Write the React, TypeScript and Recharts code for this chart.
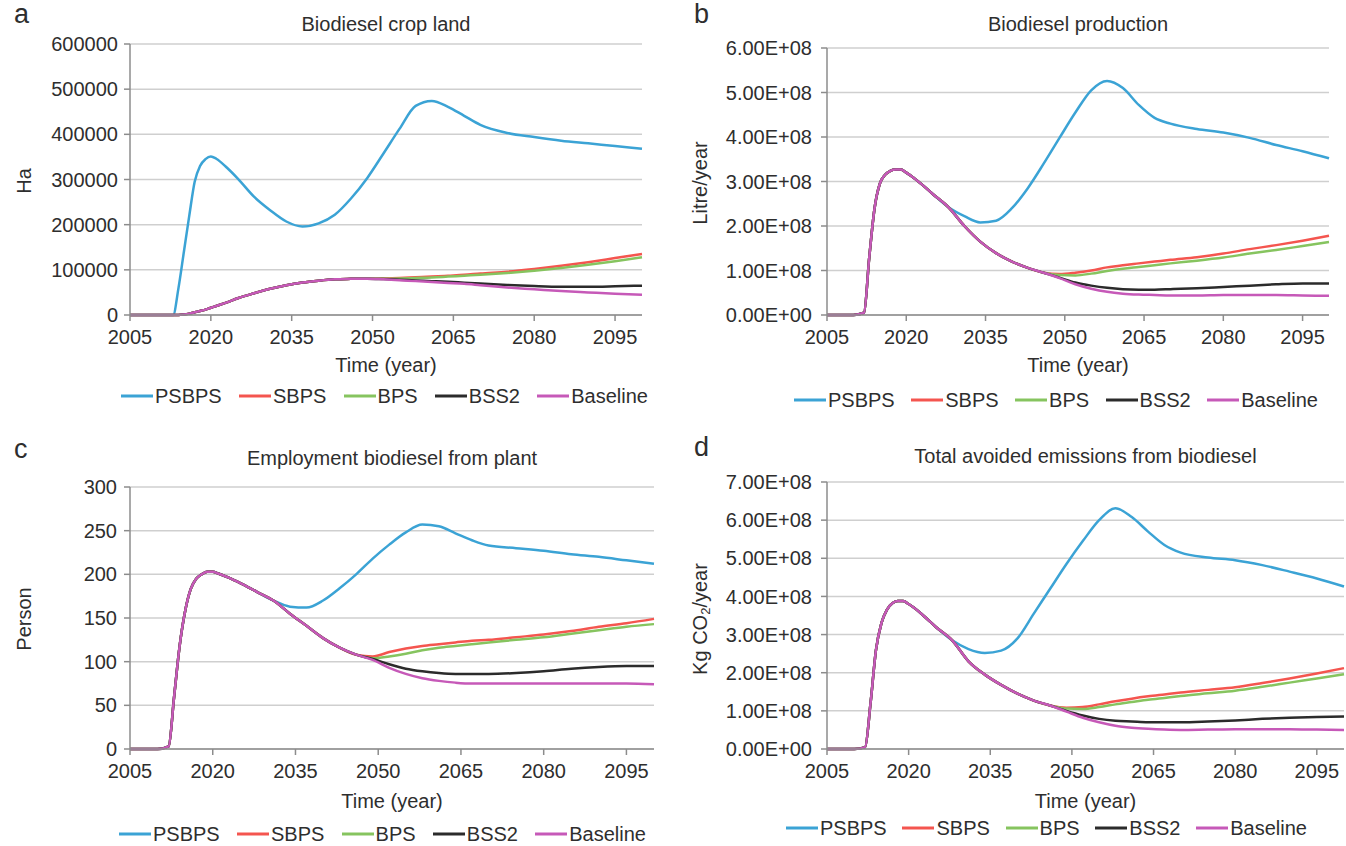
import React from 'react'
import { LineChart, Line, XAxis, YAxis, CartesianGrid } from 'recharts'

const YEARS = [2005, 2010, 2012, 2013, 2014, 2015, 2016, 2017, 2018, 2019, 2020, 2021, 2023, 2025, 2028, 2031, 2034, 2037, 2040, 2043, 2046, 2049, 2052, 2055, 2058, 2061, 2064, 2067, 2070, 2075, 2080, 2085, 2090, 2095, 2100]
const YEAR_TICKS = [2005, 2020, 2035, 2050, 2065, 2080, 2095]
const SERIES = ['PSBPS', 'SBPS', 'BPS', 'BSS2', 'Baseline']
const COLORS = ['#3ba3d5', '#f4554f', '#86c45f', '#2b2b2b', '#c659b8']

// a - crop land (Ha)
const LAND_PSBPS = [0, 0, 0, 0, 60000, 140000, 220000, 295000, 330000, 345000, 351000, 346000, 326000, 302000, 262000, 232000, 207000, 196000, 203000, 222000, 258000, 303000, 357000, 412000, 463000, 474000, 461000, 441000, 421000, 403000, 394000, 386000, 380000, 374000, 368000]
const LAND_SBPS = [0, 0, 0, 0, 0, 1000, 3000, 6000, 9000, 12000, 16000, 20000, 28000, 37000, 48000, 58000, 66000, 72000, 76000, 79000, 80000, 80500, 81000, 82000, 83500, 85000, 87000, 89000, 92000, 96000, 102000, 109000, 117000, 126000, 135000]
const LAND_BPS = [0, 0, 0, 0, 0, 1000, 3000, 6000, 9000, 12000, 16000, 20000, 28000, 37000, 48000, 58000, 66000, 72000, 76000, 79000, 80000, 80500, 80500, 81000, 82000, 83000, 85000, 87000, 89000, 93000, 98000, 104000, 111000, 119000, 128000]
const LAND_BSS2 = [0, 0, 0, 0, 0, 1000, 3000, 6000, 9000, 12000, 16000, 20000, 28000, 37000, 48000, 58000, 66000, 72000, 76000, 79000, 80000, 80500, 79500, 78000, 76500, 75000, 73500, 71500, 69500, 66500, 64000, 62500, 62500, 63500, 65000]
const LAND_BASE = [0, 0, 0, 0, 0, 1000, 3000, 6000, 9000, 12000, 16000, 20000, 28000, 37000, 48000, 58000, 66000, 72000, 76000, 79000, 80000, 80500, 79000, 77000, 75000, 73000, 71000, 69000, 66000, 61000, 57000, 53000, 50000, 47000, 45000]
const LAND_TICKS = [0, 100000, 200000, 300000, 400000, 500000, 600000]

// b - production (E+08 litre/year)
const PROD_PSBPS = [0, 0, 0.05, 1.3, 2.4, 2.95, 3.15, 3.24, 3.27, 3.27, 3.2, 3.12, 2.93, 2.72, 2.42, 2.22, 2.08, 2.12, 2.4, 2.85, 3.4, 3.98, 4.55, 5.05, 5.26, 5.1, 4.72, 4.43, 4.3, 4.18, 4.1, 3.98, 3.82, 3.68, 3.52]
const PROD_SBPS = [0, 0, 0.05, 1.3, 2.4, 2.95, 3.15, 3.24, 3.27, 3.27, 3.2, 3.12, 2.93, 2.72, 2.42, 2.0, 1.65, 1.39, 1.2, 1.06, 0.95, 0.92, 0.95, 1.0, 1.07, 1.12, 1.16, 1.2, 1.24, 1.3, 1.38, 1.48, 1.57, 1.67, 1.78]
const PROD_BPS = [0, 0, 0.05, 1.3, 2.4, 2.95, 3.15, 3.24, 3.27, 3.27, 3.2, 3.12, 2.93, 2.72, 2.42, 2.0, 1.65, 1.39, 1.2, 1.06, 0.95, 0.9, 0.89, 0.93, 0.99, 1.04, 1.08, 1.12, 1.16, 1.22, 1.29, 1.38, 1.46, 1.55, 1.64]
const PROD_BSS2 = [0, 0, 0.05, 1.3, 2.4, 2.95, 3.15, 3.24, 3.27, 3.27, 3.2, 3.12, 2.93, 2.72, 2.42, 2.0, 1.65, 1.39, 1.2, 1.06, 0.95, 0.84, 0.73, 0.66, 0.61, 0.58, 0.57, 0.57, 0.58, 0.6, 0.63, 0.66, 0.69, 0.71, 0.71]
const PROD_BASE = [0, 0, 0.05, 1.3, 2.4, 2.95, 3.15, 3.24, 3.27, 3.27, 3.2, 3.12, 2.93, 2.72, 2.42, 2.0, 1.65, 1.39, 1.2, 1.06, 0.95, 0.83, 0.69, 0.59, 0.52, 0.48, 0.46, 0.45, 0.44, 0.44, 0.45, 0.45, 0.45, 0.44, 0.43]
const PROD_TICKS = [0, 1, 2, 3, 4, 5, 6]

// c - employment (person)
const JOBS_PSBPS = [0, 0, 3, 60, 118, 158, 183, 195, 200, 203, 203, 201, 196, 190, 180, 170, 163, 162, 170, 184, 200, 218, 234, 248, 257, 255, 247, 239, 233, 230, 227, 223, 220, 216, 212]
const JOBS_SBPS = [0, 0, 3, 60, 118, 158, 183, 195, 200, 203, 203, 201, 196, 190, 180, 170, 155, 141, 127, 116, 108, 106, 111, 115, 118, 120, 122, 124, 125, 128, 131, 135, 140, 144, 149]
const JOBS_BPS = [0, 0, 3, 60, 118, 158, 183, 195, 200, 203, 203, 201, 196, 190, 180, 170, 155, 141, 127, 116, 108, 104, 106, 109, 113, 116, 118, 120, 122, 125, 128, 132, 136, 140, 143]
const JOBS_BSS2 = [0, 0, 3, 60, 118, 158, 183, 195, 200, 203, 203, 201, 196, 190, 180, 170, 155, 141, 127, 116, 108, 103, 97, 92, 89, 87, 86, 86, 86, 87, 89, 92, 94, 95, 95]
const JOBS_BASE = [0, 0, 3, 60, 118, 158, 183, 195, 200, 203, 203, 201, 196, 190, 180, 170, 155, 141, 127, 116, 108, 102, 93, 86, 81, 78, 76, 75, 75, 75, 75, 75, 75, 75, 74]
const JOBS_TICKS = [0, 50, 100, 150, 200, 250, 300]

// d - avoided emissions (E+08 kg CO2/year)
const AVOID_PSBPS = [0, 0, 0.05, 1.2, 2.6, 3.3, 3.65, 3.82, 3.88, 3.88, 3.8, 3.7, 3.46, 3.2, 2.85, 2.62, 2.52, 2.58, 2.9, 3.55, 4.2, 4.85, 5.45, 6.0, 6.31, 6.08, 5.7, 5.35, 5.15, 5.02, 4.95, 4.82, 4.65, 4.47, 4.26]
const AVOID_SBPS = [0, 0, 0.05, 1.2, 2.6, 3.3, 3.65, 3.82, 3.88, 3.88, 3.8, 3.7, 3.46, 3.2, 2.85, 2.3, 1.95, 1.68, 1.45, 1.27, 1.14, 1.08, 1.1, 1.17, 1.25, 1.32, 1.38, 1.43, 1.48, 1.55, 1.62, 1.73, 1.85, 1.98, 2.12]
const AVOID_BPS = [0, 0, 0.05, 1.2, 2.6, 3.3, 3.65, 3.82, 3.88, 3.88, 3.8, 3.7, 3.46, 3.2, 2.85, 2.3, 1.95, 1.68, 1.45, 1.27, 1.14, 1.06, 1.05, 1.1, 1.17, 1.23, 1.29, 1.34, 1.39, 1.46, 1.53, 1.63, 1.74, 1.85, 1.96]
const AVOID_BSS2 = [0, 0, 0.05, 1.2, 2.6, 3.3, 3.65, 3.82, 3.88, 3.88, 3.8, 3.7, 3.46, 3.2, 2.85, 2.3, 1.95, 1.68, 1.45, 1.27, 1.14, 1.0, 0.88, 0.79, 0.74, 0.72, 0.7, 0.7, 0.7, 0.72, 0.75, 0.79, 0.82, 0.84, 0.85]
const AVOID_BASE = [0, 0, 0.05, 1.2, 2.6, 3.3, 3.65, 3.82, 3.88, 3.88, 3.8, 3.7, 3.46, 3.2, 2.85, 2.3, 1.95, 1.68, 1.45, 1.27, 1.14, 0.98, 0.82, 0.7, 0.61, 0.56, 0.53, 0.51, 0.5, 0.51, 0.52, 0.52, 0.52, 0.51, 0.5]
const AVOID_TICKS = [0, 1, 2, 3, 4, 5, 6, 7]

const FONT = '"Liberation Sans", Arial, Helvetica, sans-serif'
const TEXT = '#2e2e2e'
const AXIS = '#8c8c8c'

function toRows(series: number[][]) {
  return YEARS.map((year, i) => {
    const row: Record<string, number> = { year }
    SERIES.forEach((name, j) => {
      row[name] = series[j][i]
    })
    return row
  })
}

const sci = (v: number) => (v === 0 ? '0.00E+00' : `${v.toFixed(2)}E+08`)
const plain = (v: number) => String(v)

function LegendRow({ left, top, width }: { left: number; top: number; width: number }) {
  return (
    <div
      style={{
        position: 'absolute',
        left,
        top,
        width,
        display: 'flex',
        justifyContent: 'space-between',
        alignItems: 'center',
        fontSize: 20,
        lineHeight: 1,
        color: TEXT,
      }}
    >
      {SERIES.map((s, i) => (
        <div key={s} style={{ display: 'flex', alignItems: 'center', height: 20 }}>
          <svg width={32} height={4} style={{ display: 'block' }}>
            <line x1={0} y1={2} x2={32} y2={2} stroke={COLORS[i]} strokeWidth={3} />
          </svg>
          <span style={{ marginLeft: 2 }}>{s}</span>
        </div>
      ))}
    </div>
  )
}

type PanelProps = {
  box: { left: number; top: number; width: number; height: number }
  plot: { x0: number; x1: number; y0: number; y1: number }
  letter: string
  letterTop: number
  title: string
  titleTop: number
  yLabel: React.ReactNode
  yLabelX: number
  yLabelY: number
  xLabelTop: number
  legend: { left: number; top: number; width: number }
  ticks: number[]
  fmt: (v: number) => string
  tickGap: number
  data: Record<string, number>[]
}

function Panel(p: PanelProps) {
  const { box, plot } = p
  const xAxisHeight = 40
  const margin = {
    top: plot.y0 - box.top,
    right: box.left + box.width - plot.x1,
    left: 0,
    bottom: box.top + box.height - plot.y1 - xAxisHeight,
  }
  const midX = (plot.x0 + plot.x1) / 2
  return (
    <>
      <div style={{ position: 'absolute', left: box.left, top: box.top }}>
        <LineChart width={box.width} height={box.height} data={p.data} margin={margin}>
          <CartesianGrid vertical={false} stroke="#cfcfcf" strokeWidth={1.5} />
          <XAxis
            dataKey="year"
            type="number"
            domain={[2005, 2100]}
            ticks={YEAR_TICKS}
            interval={0}
            height={xAxisHeight}
            tickSize={6}
            tickMargin={9}
            tick={{ fontSize: 20, fill: TEXT }}
            axisLine={{ stroke: AXIS, strokeWidth: 1.5 }}
            tickLine={{ stroke: AXIS, strokeWidth: 1.5 }}
          />
          <YAxis
            type="number"
            domain={[0, p.ticks[p.ticks.length - 1]]}
            ticks={p.ticks}
            interval={0}
            width={plot.x0 - box.left}
            tickFormatter={p.fmt}
            tickSize={6}
            tickMargin={p.tickGap}
            tick={{ fontSize: 20, fill: TEXT }}
            axisLine={{ stroke: AXIS, strokeWidth: 1.5 }}
            tickLine={{ stroke: AXIS, strokeWidth: 1.5 }}
          />
          {SERIES.map((s, i) => (
            <Line
              key={s}
              dataKey={s}
              type="monotone"
              stroke={COLORS[i]}
              strokeWidth={2.5}
              dot={false}
              activeDot={false}
              isAnimationActive={false}
            />
          ))}
        </LineChart>
      </div>
      <div style={{ position: 'absolute', left: box.left + 14, top: p.letterTop, fontSize: 27, lineHeight: 1 }}>
        {p.letter}
      </div>
      <div
        style={{
          position: 'absolute',
          left: midX - 250,
          width: 500,
          top: p.titleTop,
          textAlign: 'center',
          fontSize: 20,
          lineHeight: 1,
        }}
      >
        {p.title}
      </div>
      <div
        style={{
          position: 'absolute',
          left: midX - 100,
          width: 200,
          top: p.xLabelTop,
          textAlign: 'center',
          fontSize: 20,
          lineHeight: 1,
        }}
      >
        Time (year)
      </div>
      <div
        style={{
          position: 'absolute',
          left: p.yLabelX - 120,
          top: p.yLabelY - 10,
          width: 240,
          height: 20,
          lineHeight: '20px',
          textAlign: 'center',
          fontSize: 20,
          transform: 'rotate(-90deg)',
        }}
      >
        {p.yLabel}
      </div>
      <LegendRow {...p.legend} />
    </>
  )
}

export default function App() {
  const land = toRows([LAND_PSBPS, LAND_SBPS, LAND_BPS, LAND_BSS2, LAND_BASE])
  const prod = toRows([PROD_PSBPS, PROD_SBPS, PROD_BPS, PROD_BSS2, PROD_BASE])
  const jobs = toRows([JOBS_PSBPS, JOBS_SBPS, JOBS_BPS, JOBS_BSS2, JOBS_BASE])
  const avoid = toRows([AVOID_PSBPS, AVOID_SBPS, AVOID_BPS, AVOID_BSS2, AVOID_BASE])

  return (
    <div
      style={{
        position: 'absolute',
        left: 0,
        top: 0,
        width: 1346,
        height: 846,
        background: '#fff',
        fontFamily: FONT,
        color: TEXT,
        overflow: 'hidden',
      }}
    >
      <Panel
        box={{ left: 0, top: 0, width: 680, height: 420 }}
        plot={{ x0: 130, x1: 642, y0: 44, y1: 315 }}
        letter="a"
        letterTop={1}
        title="Biodiesel crop land"
        titleTop={14}
        yLabel="Ha"
        yLabelX={24}
        yLabelY={181}
        xLabelTop={355}
        legend={{ left: 121, top: 386, width: 527 }}
        ticks={LAND_TICKS}
        fmt={plain}
        tickGap={6}
        data={land}
      />
      <Panel
        box={{ left: 680, top: 0, width: 666, height: 420 }}
        plot={{ x0: 827, x1: 1329, y0: 48, y1: 315 }}
        letter="b"
        letterTop={1}
        title="Biodiesel production"
        titleTop={14}
        yLabel="Litre/year"
        yLabelX={700}
        yLabelY={183}
        xLabelTop={355}
        legend={{ left: 794, top: 390, width: 524 }}
        ticks={PROD_TICKS}
        fmt={sci}
        tickGap={9}
        data={prod}
      />
      <Panel
        box={{ left: 0, top: 430, width: 680, height: 416 }}
        plot={{ x0: 130, x1: 654, y0: 487, y1: 749 }}
        letter="c"
        letterTop={436}
        title="Employment biodiesel from plant"
        titleTop={448}
        yLabel="Person"
        yLabelX={24}
        yLabelY={619}
        xLabelTop={791}
        legend={{ left: 119, top: 824, width: 527 }}
        ticks={JOBS_TICKS}
        fmt={plain}
        tickGap={7}
        data={jobs}
      />
      <Panel
        box={{ left: 680, top: 430, width: 666, height: 416 }}
        plot={{ x0: 827, x1: 1344, y0: 482, y1: 749 }}
        letter="d"
        letterTop={434}
        title="Total avoided emissions from biodiesel"
        titleTop={446}
        yLabel={
          <span>
            Kg CO<sub style={{ fontSize: 13, verticalAlign: '-3px', lineHeight: 0 }}>2</sub>/year
          </span>
        }
        yLabelX={700}
        yLabelY={619}
        xLabelTop={791}
        legend={{ left: 786, top: 818, width: 521 }}
        ticks={AVOID_TICKS}
        fmt={sci}
        tickGap={9}
        data={avoid}
      />
    </div>
  )
}
